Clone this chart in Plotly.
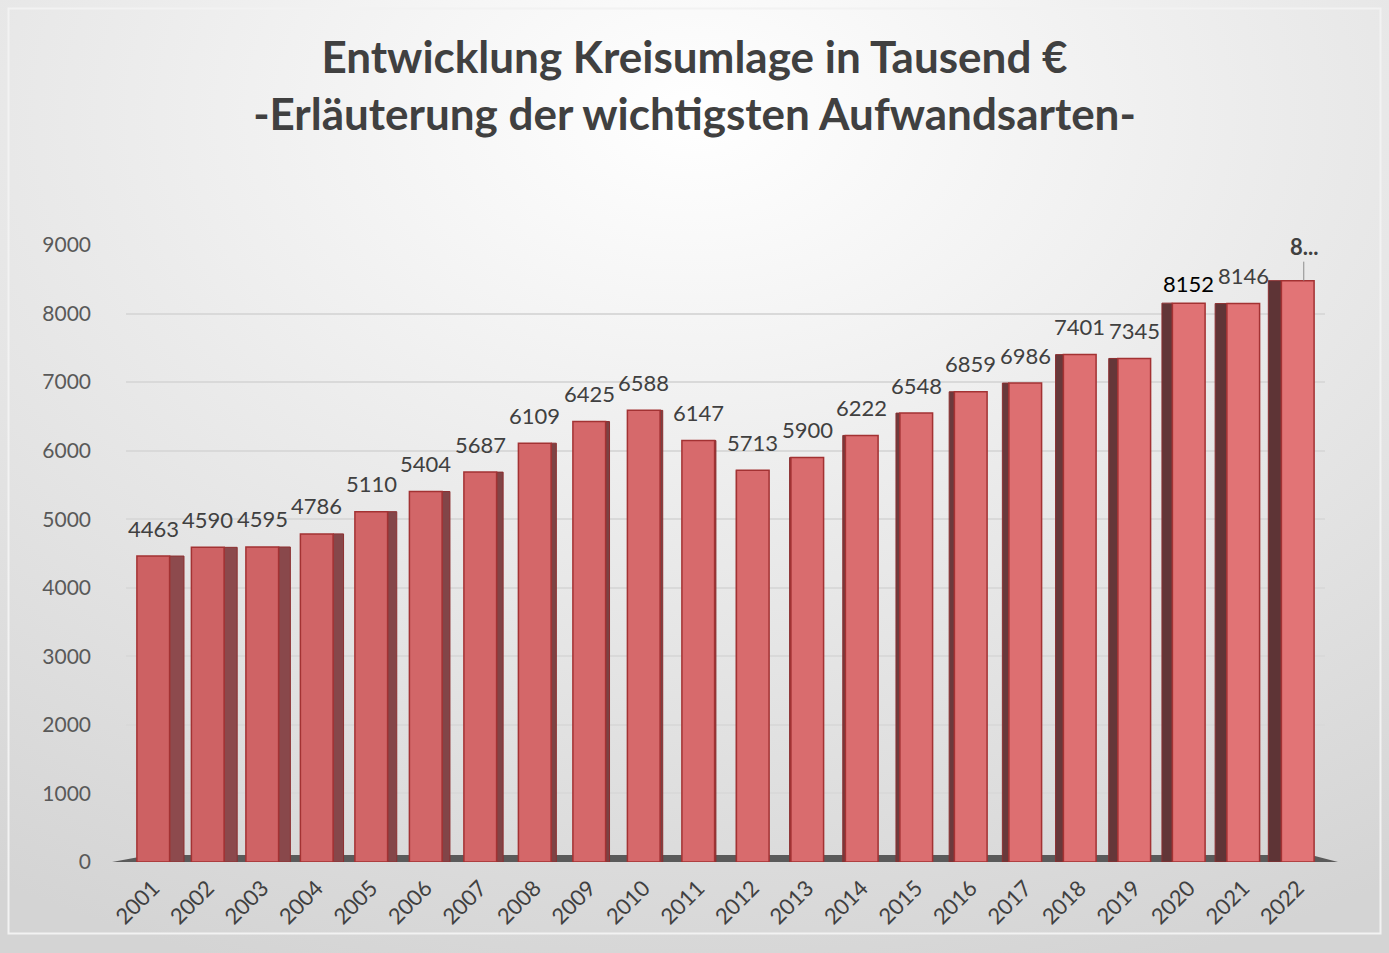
import base64
import plotly.graph_objects as go

# ---- data ----
years = [str(y) for y in range(2001, 2023)]
values = [4463, 4590, 4595, 4786, 5110, 5404, 5687, 6109, 6425, 6588, 6147,
          5713, 5900, 6222, 6548, 6859, 6986, 7401, 7345, 8152, 8146, 8480]
labels = ["4463", "4590", "4595", "4786", "5110", "5404", "5687", "6109", "6425", "6588", "6147",
          "5713", "5900", "6222", "6548", "6859", "6986", "7401", "7345", "8152", "8146", "8..."]
title_lines = ["Entwicklung Kreisumlage in Tausend €", "-Erläuterung der wichtigsten Aufwandsarten-"]

W, H = 1389, 953
ML, MR, MT, MB = 126, 64, 245, 91
PW, PH = W - ML - MR, H - MT - MB
FONT = "Lato, Open Sans, sans-serif"

n = len(years)
mid = 11
front_w = 0.6
side_w = [0.024 * abs(i - mid) for i in range(n)]
side_off = [(front_w / 2 if i < mid else -front_w / 2 - side_w[i]) for i in range(n)]


def mix(c1, c2, t):
    a = [int(c1[k:k + 2], 16) for k in (1, 3, 5)]
    b = [int(c2[k:k + 2], 16) for k in (1, 3, 5)]
    return "#" + "".join(f"{round(a[j] + (b[j] - a[j]) * t):02x}" for j in range(3))


front_cols = [mix("#cd6163", "#e27476", i / (n - 1)) for i in range(n)]
side_cols = [mix("#8d4a4d", "#5e3436", i / (n - 1)) for i in range(n)]

fig = go.Figure()
# side faces (pseudo 3D)
fig.add_trace(go.Bar(
    x=years, y=values, width=side_w, offset=side_off,
    marker=dict(color=side_cols, line=dict(color="#8c2f30", width=1)),
    hoverinfo="skip", showlegend=False,
))
# front faces
fig.add_trace(go.Bar(
    x=years, y=values, width=front_w, offset=-front_w / 2,
    marker=dict(color=front_cols, line=dict(color="#a33233", width=1.5)),
    showlegend=False,
))

annotations = []
for i, (v, lab) in enumerate(zip(values, labels)):
    if i == n - 1:
        continue
    annotations.append(dict(
        x=i, y=v, xref="x", yref="y", text=lab, showarrow=False,
        yanchor="middle", yshift=20 if years[i] == "2020" else 28,
        font=dict(family=FONT, size=22, color="#000000" if years[i] == "2020" else "#404040")))
annotations.append(dict(
    x=n - 1, y=values[-1], xref="x", yref="y", text="<b>" + labels[-1] + "</b>",
    showarrow=True, arrowhead=0, arrowwidth=1, arrowcolor="#8c8c8c",
    ax=0, ay=-34, xshift=6, font=dict(family=FONT, size=22, color="#404040")))

svg = f'''<svg xmlns="http://www.w3.org/2000/svg" width="{W}" height="{H}">
<defs><radialGradient id="g" cx="50%" cy="12%" r="95%" fx="50%" fy="12%">
<stop offset="0%" stop-color="#ffffff"/><stop offset="45%" stop-color="#ebebeb"/>
<stop offset="100%" stop-color="#d4d4d4"/></radialGradient></defs>
<rect width="{W}" height="{H}" fill="url(#g)"/>
<rect x="8.5" y="8.5" width="{W-17}" height="{H-28}" fill="none" stroke="#f2f2f2" stroke-width="2"/>
</svg>'''
src = "data:image/svg+xml;base64," + base64.b64encode(svg.encode("utf-8")).decode()

fig.update_layout(
    width=W, height=H,
    margin=dict(l=ML, r=MR, t=MT, b=MB, autoexpand=False),
    paper_bgcolor="#e4e4e4", plot_bgcolor="rgba(0,0,0,0)",
    barmode="overlay",
    title=dict(text="<b>" + "<br>".join(title_lines) + "</b>", x=0.5, xanchor="center",
               y=1 - 73 / H, yanchor="middle",
               font=dict(family=FONT, size=44, color="#404040")),
    images=[dict(source=src, xref="paper", yref="paper", x=-ML / PW, y=1 + MT / PH,
                 sizex=W / PW, sizey=H / PH, sizing="stretch", layer="below",
                 xanchor="left", yanchor="top")],
    shapes=[dict(type="path", xref="paper", yref="paper",
                 path=f"M {-14/PW},0 L {1+13/PW},0 L {1-14/PW},{7/PH} L {24/PW},{7/PH} Z",
                 fillcolor="#5a5a5a", line=dict(width=0), layer="below")],
    annotations=annotations,
    xaxis=dict(type="category", range=[-0.5, n - 0.5], tickangle=-45, showgrid=False,
               zeroline=False, showline=False, ticks="", ticklabelstandoff=8,
               tickfont=dict(family=FONT, size=22, color="#404040")),
    yaxis=dict(range=[0, 9000], dtick=1000, showgrid=True, gridcolor="#d9d9d9", gridwidth=1.5,
               zeroline=False, showline=False, ticks="", ticklabelstandoff=34,
               tickfont=dict(family=FONT, size=21, color="#595959")),
)

fig.write_html("out.html", config={"displayModeBar": False},
               post_script="document.body.style.margin='0';document.body.style.overflow='hidden';")
